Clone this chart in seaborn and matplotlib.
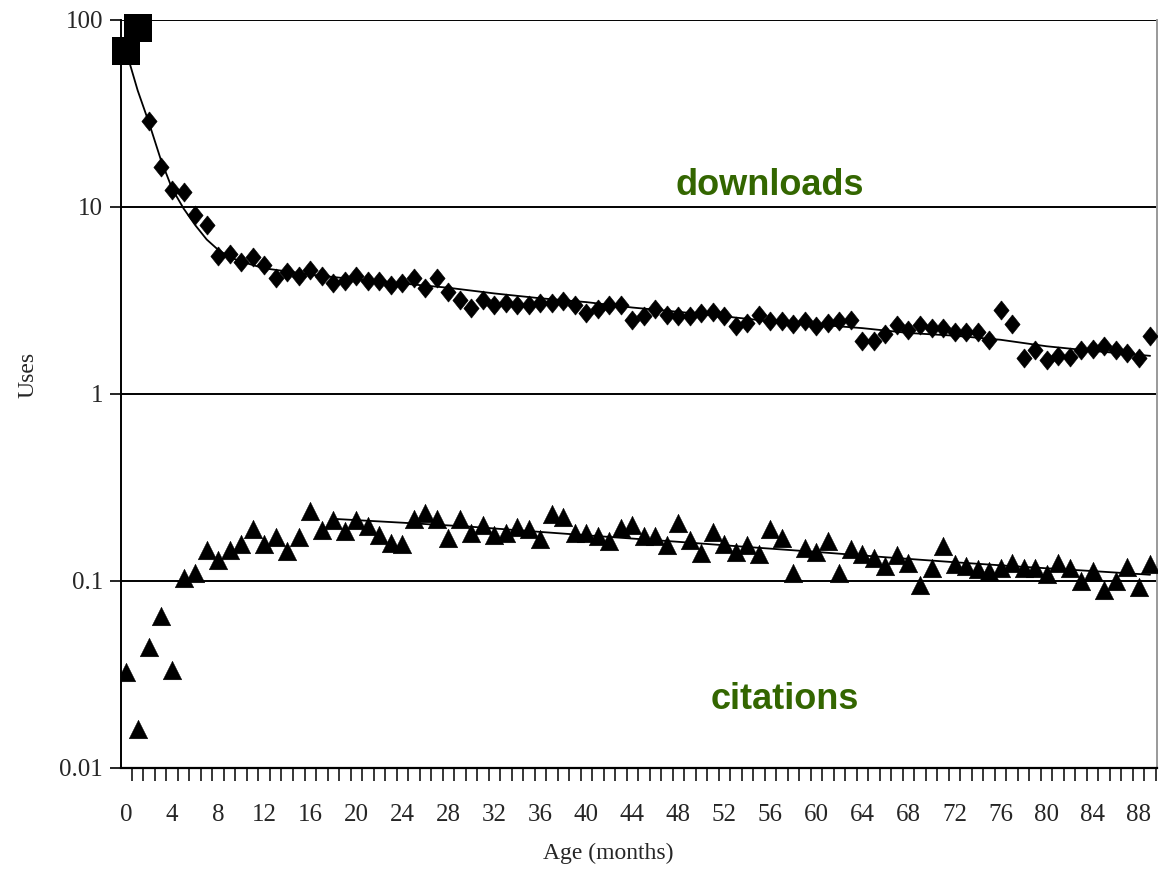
import matplotlib
matplotlib.use("Agg")
import matplotlib.pyplot as plt
import seaborn as sns
import pandas as pd
import numpy as np
from matplotlib.ticker import FixedLocator, NullFormatter, NullLocator

# ---------------- data ----------------
early_months = [0, 1]
early_downloads = [68, 91]

download_months = list(range(2, 90))
downloads = [29, 16.4, 12.4, 12.0, 9.1, 8.0, 5.5, 5.6, 5.1, 5.4,
             4.9, 4.15, 4.5, 4.3, 4.6, 4.3, 3.9, 4.0, 4.25, 4.0,
             4.0, 3.85, 3.9, 4.15, 3.7, 4.15, 3.5, 3.18, 2.87, 3.18,
             3.0, 3.05, 3.0, 3.0, 3.05, 3.05, 3.13, 3.0, 2.7, 2.85,
             3.0, 3.0, 2.5, 2.6, 2.85, 2.65, 2.6, 2.6, 2.7, 2.75,
             2.6, 2.3, 2.4, 2.65, 2.45, 2.45, 2.38, 2.45, 2.3, 2.4,
             2.45, 2.5, 1.92, 1.92, 2.1, 2.34, 2.2, 2.34, 2.25, 2.25,
             2.15, 2.15, 2.15, 1.95, 2.8, 2.36, 1.56, 1.72, 1.52, 1.6,
             1.58, 1.72, 1.75, 1.8, 1.72, 1.65, 1.56, 2.03]

citation_months = list(range(0, 90))
citations = [0.0325, 0.0162, 0.0444, 0.065, 0.0335, 0.104, 0.11, 0.146, 0.13, 0.146,
             0.157, 0.19, 0.157, 0.171, 0.145, 0.171, 0.237, 0.187, 0.213, 0.185,
             0.213, 0.197, 0.177, 0.16, 0.157, 0.215, 0.23, 0.215, 0.17, 0.215,
             0.181, 0.2, 0.177, 0.18, 0.195, 0.19, 0.168, 0.228, 0.22, 0.18,
             0.18, 0.173, 0.164, 0.193, 0.2, 0.175, 0.175, 0.156, 0.205, 0.166,
             0.142, 0.183, 0.158, 0.143, 0.156, 0.14, 0.19, 0.17, 0.11, 0.15,
             0.143, 0.164, 0.11, 0.148, 0.14, 0.133, 0.12, 0.138, 0.125, 0.095,
             0.118, 0.154, 0.123, 0.12, 0.116, 0.113, 0.117, 0.125, 0.118, 0.117,
             0.109, 0.125, 0.118, 0.1, 0.113, 0.09, 0.1, 0.119, 0.093, 0.123]

download_trend_months = [0, 1, 2, 3, 4, 5, 6, 7, 8, 9, 10, 12, 16, 20, 24, 28, 32,
                         36, 40, 44, 48, 52, 56, 60, 64, 68, 72, 76, 80, 84, 89]
download_trend = [68, 42, 28, 18, 12.5, 9.8, 8.0, 6.7, 5.9, 5.4, 5.1, 4.7, 4.35, 4.1,
                  3.9, 3.7, 3.45, 3.25, 3.1, 2.9, 2.75, 2.6, 2.45, 2.35, 2.25, 2.12,
                  2.05, 1.95, 1.8, 1.7, 1.6]

citation_trend_months = [18, 24, 30, 36, 42, 48, 54, 60, 66, 72, 78, 84, 89]
citation_trend = [0.215, 0.205, 0.195, 0.183, 0.172, 0.162, 0.152, 0.143, 0.134,
                  0.126, 0.119, 0.113, 0.108]

xtick_labels = [str(m) for m in range(0, 89, 4)]
series_labels = ["downloads", "citations"]

# ---------------- figure ----------------
sns.set_theme(style="white")
plt.rcParams["font.family"] = ["Liberation Serif", "DejaVu Serif"]

fig = plt.figure(figsize=(11.61, 8.69), dpi=100)
ax = fig.add_axes([121 / 1161, 1 - 768 / 869, (1157 - 121) / 1161, (768 - 20) / 869])

ax.set_yscale("log")
ax.set_ylim(0.01, 100)
ax.set_xlim(-0.45, 89.6)

# gridlines at decades
for v in [0.1, 1, 10, 100]:
    ax.axhline(v, color="black", lw=1.4, zorder=1)

df_tr = pd.DataFrame({"m": download_trend_months, "v": download_trend})
sns.lineplot(data=df_tr, x="m", y="v", ax=ax, color="black", lw=1.3, zorder=3)
ct_tr = pd.DataFrame({"m": citation_trend_months, "v": citation_trend})
sns.lineplot(data=ct_tr, x="m", y="v", ax=ax, color="black", lw=1.3, zorder=3)

diamond = [(0, 1.0), (0.8, 0), (0, -1.0), (-0.8, 0), (0, 1.0)]
df_d = pd.DataFrame({"m": download_months, "v": downloads})
sns.scatterplot(data=df_d, x="m", y="v", ax=ax, marker=diamond, s=190, color="black",
                edgecolor="black", linewidth=0.4, zorder=4)
df_e = pd.DataFrame({"m": early_months, "v": early_downloads})
sns.scatterplot(data=df_e, x="m", y="v", ax=ax, marker="s", s=420, color="black",
                edgecolor="black", linewidth=0, zorder=5, clip_on=False)
df_c = pd.DataFrame({"m": citation_months, "v": citations})
sns.scatterplot(data=df_c, x="m", y="v", ax=ax, marker="^", s=180, color="black",
                edgecolor="black", linewidth=0.3, zorder=4)

# spines
ax.spines["top"].set_visible(False)
ax.spines["left"].set_color("black")
ax.spines["left"].set_linewidth(1.4)
ax.spines["bottom"].set_color("black")
ax.spines["bottom"].set_linewidth(1.6)
ax.spines["right"].set_color("#999999")
ax.spines["right"].set_linewidth(1.4)

# ticks
ax.yaxis.set_major_locator(FixedLocator([0.01, 0.1, 1, 10, 100]))
ax.yaxis.set_minor_locator(NullLocator())
ax.set_yticklabels(["0.01", "0.1", "1", "10", "100"], fontsize=18)
ax.tick_params(axis="y", which="major", direction="out", length=8, width=1.2,
               color="black", left=True, pad=5)

ax.xaxis.set_major_locator(FixedLocator(list(range(0, 89, 4))))
ax.set_xticklabels(xtick_labels, fontsize=18)
ax.tick_params(axis="x", which="major", length=0, pad=26)
ax.xaxis.set_minor_locator(FixedLocator([k + 0.5 for k in range(-1, 90)]))
ax.xaxis.set_minor_formatter(NullFormatter())
ax.tick_params(axis="x", which="minor", direction="out", length=9, width=1.1,
               color="black", bottom=True)

ax.set_xlabel("Age (months)", fontsize=17)
ax.xaxis.set_label_coords(0.47, -0.1)
ax.set_ylabel("Uses", fontsize=17)
ax.yaxis.set_label_coords(-0.08, 0.525)

# series labels
ax.text(0.626, 0.779, series_labels[0], transform=ax.transAxes, ha="center", va="center",
        fontsize=26, fontweight="bold", color="#336600", family=["Liberation Sans", "DejaVu Sans"])
ax.text(0.641, 0.091, series_labels[1], transform=ax.transAxes, ha="center", va="center",
        fontsize=26, fontweight="bold", color="#336600", family=["Liberation Sans", "DejaVu Sans"])

fig.savefig("out.png", dpi=100)
